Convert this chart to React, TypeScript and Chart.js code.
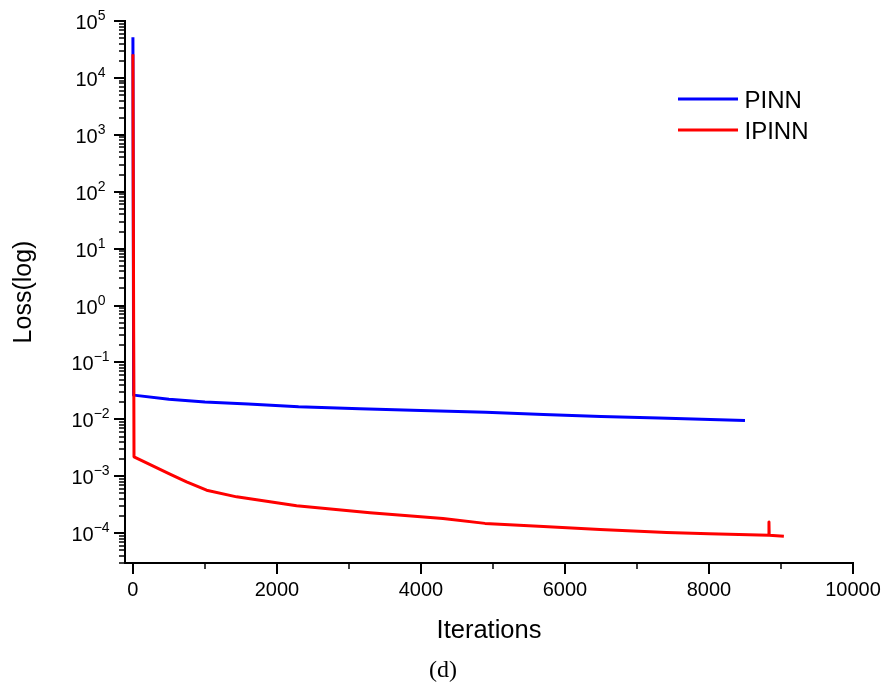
import React, { useEffect, useRef } from 'react';
import { Chart, registerables } from 'chart.js';

Chart.register(...registerables);

// ---- data ----
const pinnIterations = [0, 10, 500, 1000, 1600, 2300, 3150, 4000, 4900, 5700, 6500, 7300, 7900, 8500];
const pinnLoss = [52000, 0.0267, 0.0226, 0.0203, 0.0187, 0.0167, 0.0154, 0.0143, 0.0133, 0.0122, 0.0113, 0.0106, 0.0101, 0.0096];

const ipinnIterations = [0, 15, 514, 745, 1023, 1440, 1903, 2273, 2782, 3292, 4306, 4889, 5700, 6486, 7412, 8000, 8830, 8833, 8836, 9040];
const ipinnLoss = [26000, 0.0022, 0.00109, 0.0008, 0.00057, 0.000436, 0.000357, 0.000303, 0.000265, 0.000229, 0.000182, 0.000149, 0.000131, 0.000116, 0.000103, 0.0000975, 0.0000925, 0.000157, 0.0000922, 0.0000885];

const seriesNames = ['PINN', 'IPINN'];
const seriesColors = ['#0000FF', '#FF0000'];

const xTickValues = [0, 2000, 4000, 6000, 8000, 10000];
const xMinorTickValues = [1000, 3000, 5000, 7000, 9000];
const yDecadeExponents = [-4, -3, -2, -1, 0, 1, 2, 3, 4, 5];
const xTitle = 'Iterations';
const yTitle = 'Loss(log)';
const caption = '(d)';

const SANS = '"Liberation Sans", Arial, Helvetica, sans-serif';
const SERIF = '"Liberation Serif", "Times New Roman", serif';

const decorPlugin = {
  id: 'decor',
  afterDraw(chart: any) {
    const { ctx, chartArea } = chart;
    const xs = chart.scales.x;
    const ys = chart.scales.y;
    const left = chartArea.left;
    const bottom = chartArea.bottom;
    ctx.save();
    ctx.strokeStyle = '#000';
    ctx.fillStyle = '#000';

    // y tick marks (major at decades, minor at 2..9)
    const yMin = ys.min;
    const yMax = ys.max;
    for (let e = Math.floor(Math.log10(yMin)); e <= Math.ceil(Math.log10(yMax)); e++) {
      for (let m = 1; m <= 9; m++) {
        const v = m * Math.pow(10, e);
        if (v < yMin * 0.999 || v > yMax * 1.001) continue;
        const py = Math.round(ys.getPixelForValue(v));
        const len = m === 1 ? 11 : 6;
        ctx.lineWidth = m === 1 ? 2 : 1.5;
        ctx.beginPath();
        ctx.moveTo(left - len, py);
        ctx.lineTo(left, py);
        ctx.stroke();
      }
    }

    // x tick marks
    const drawXTick = (v: number, len: number, w: number) => {
      const px = Math.round(xs.getPixelForValue(v));
      ctx.lineWidth = w;
      ctx.beginPath();
      ctx.moveTo(px, bottom);
      ctx.lineTo(px, bottom + len);
      ctx.stroke();
    };
    xTickValues.forEach((v) => drawXTick(v, 11, 2));
    xMinorTickValues.forEach((v) => drawXTick(v, 6, 1.5));

    // y tick labels with superscript exponents
    ctx.textAlign = 'left';
    ctx.textBaseline = 'alphabetic';
    yDecadeExponents.forEach((e) => {
      const py = ys.getPixelForValue(Math.pow(10, e));
      const expText = e < 0 ? '\u2212' + Math.abs(e) : String(e);
      ctx.font = `20px ${SANS}`;
      const w1 = ctx.measureText('10').width;
      ctx.font = `14px ${SANS}`;
      const w2 = ctx.measureText(expText).width;
      const start = 90.5 - (w1 + w2) / 2;
      ctx.font = `20px ${SANS}`;
      ctx.fillText('10', start, py + 8);
      ctx.font = `14px ${SANS}`;
      ctx.fillText(expText, start + w1, py - 1);
    });

    // legend
    const legendY = [99, 130];
    seriesNames.forEach((name, i) => {
      ctx.strokeStyle = seriesColors[i];
      ctx.lineWidth = 3;
      ctx.beginPath();
      ctx.moveTo(678, legendY[i]);
      ctx.lineTo(738, legendY[i]);
      ctx.stroke();
      ctx.fillStyle = '#000';
      ctx.font = `24px ${SANS}`;
      ctx.textAlign = 'left';
      ctx.textBaseline = 'alphabetic';
      ctx.fillText(name, 744.5, legendY[i] + 8.5);
    });

    // caption
    ctx.fillStyle = '#000';
    ctx.font = `24px ${SERIF}`;
    ctx.textAlign = 'center';
    ctx.textBaseline = 'alphabetic';
    ctx.fillText(caption, 443, 677);

    ctx.restore();
  },
};

export default function App() {
  const ref = useRef<HTMLCanvasElement>(null);

  useEffect(() => {
    const canvas = ref.current;
    if (!canvas) return;
    const chart = new Chart(canvas, {
      type: 'line',
      data: {
        datasets: [
          {
            label: seriesNames[0],
            data: pinnIterations.map((x, i) => ({ x, y: pinnLoss[i] })),
            borderColor: seriesColors[0],
            backgroundColor: seriesColors[0],
            borderWidth: 3,
            pointRadius: 0,
            tension: 0,
            borderJoinStyle: 'round',
            order: 2,
          },
          {
            label: seriesNames[1],
            data: ipinnIterations.map((x, i) => ({ x, y: ipinnLoss[i] })),
            borderColor: seriesColors[1],
            backgroundColor: seriesColors[1],
            borderWidth: 3,
            pointRadius: 0,
            tension: 0,
            borderJoinStyle: 'round',
            order: 1,
          },
        ],
      },
      options: {
        animation: false,
        responsive: true,
        maintainAspectRatio: false,
        layout: { padding: { top: 21, right: 39, bottom: 0, left: 0 } },
        plugins: {
          legend: { display: false },
          tooltip: { enabled: false },
        },
        scales: {
          x: {
            type: 'linear',
            min: -110,
            max: 10000,
            afterBuildTicks: (s: any) => {
              s.ticks = xTickValues.map((v) => ({ value: v }));
            },
            afterFit: (s: any) => {
              s.height = 122;
              s.paddingLeft = 0;
              s.paddingRight = 0;
            },
            grid: { display: false, drawTicks: false },
            border: { display: true, color: '#000', width: 2 },
            ticks: {
              color: '#000',
              font: { family: SANS, size: 20 },
              padding: 15,
              maxRotation: 0,
              autoSkip: false,
              callback: (v: any) => String(v),
            },
            title: {
              display: true,
              text: xTitle,
              color: '#000',
              font: { family: SANS, size: 25.5 },
              padding: { top: 0, bottom: 39.2 },
            },
          },
          y: {
            type: 'logarithmic',
            min: 3e-5,
            max: 1e5,
            afterFit: (s: any) => {
              s.width = 125;
              s.paddingTop = 0;
              s.paddingBottom = 0;
            },
            grid: { display: false, drawTicks: false },
            border: { display: true, color: '#000', width: 2 },
            ticks: { display: false },
            title: {
              display: true,
              text: yTitle,
              color: '#000',
              font: { family: SANS, size: 25 },
              padding: { top: 9.3, bottom: 0 },
            },
          },
        },
      },
      plugins: [decorPlugin],
    } as any);
    return () => chart.destroy();
  }, []);

  return (
    <div style={{ position: 'absolute', left: 0, top: 0, width: 892, height: 685, background: '#fff' }}>
      <canvas ref={ref} />
    </div>
  );
}
